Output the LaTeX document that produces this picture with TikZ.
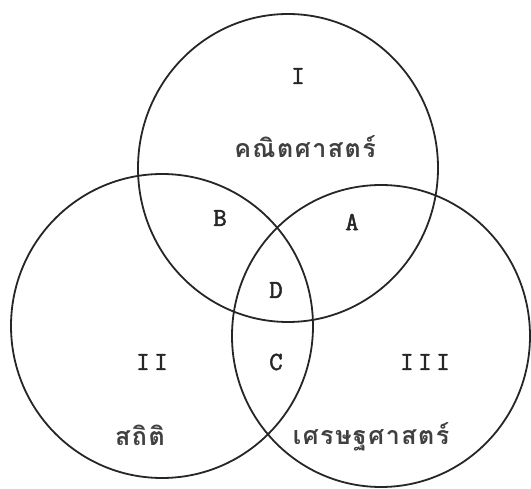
\documentclass[tikz,border=0pt]{standalone}
\usepackage{fontspec}
\newfontfamily\twfont{Latin Modern Mono}[FakeBold=2,LetterSpace=18]
\newfontfamily\thaifont[Script=Thai,LetterSpace=6]{Loma}
\begin{document}
\begin{tikzpicture}[x=1pt,y=-1pt,
  ring/.style={draw=black!85,line width=1.8pt},
  lbl/.style={font=\twfont\bfseries\fontsize{26}{26}\selectfont,text=black!85,inner sep=0pt},
  thai/.style={font=\thaifont\bfseries\fontsize{25}{28}\selectfont,text=black!75,inner sep=0pt}]
\useasboundingbox (0,0) rectangle (531,489);
\fill[white] (0,0) rectangle (531,489);
\draw[ring] (288,168) ellipse [x radius=150,y radius=154];
\draw[ring] (162,326) ellipse [x radius=151,y radius=152];
\draw[ring] (381,336) ellipse [x radius=149,y radius=151];
\node[lbl] (i) at (298,76) {I};
\node[thai] (math) at (305,147) {คณิตศาสตร์};
\node[lbl] (b) at (220,218) {B};
\node[lbl] (a) at (352,222) {A};
\node[lbl] (d) at (276,290) {D};
\node[lbl] (ii) at (152,362) {II};
\node[lbl] (c) at (276,362) {C};
\node[lbl] (iii) at (425,362) {III};
\node[thai] (stat) at (140,435) {สถิติ};
\node[thai] (econ) at (371,437) {เศรษฐศาสตร์};
\end{tikzpicture}
\end{document}
